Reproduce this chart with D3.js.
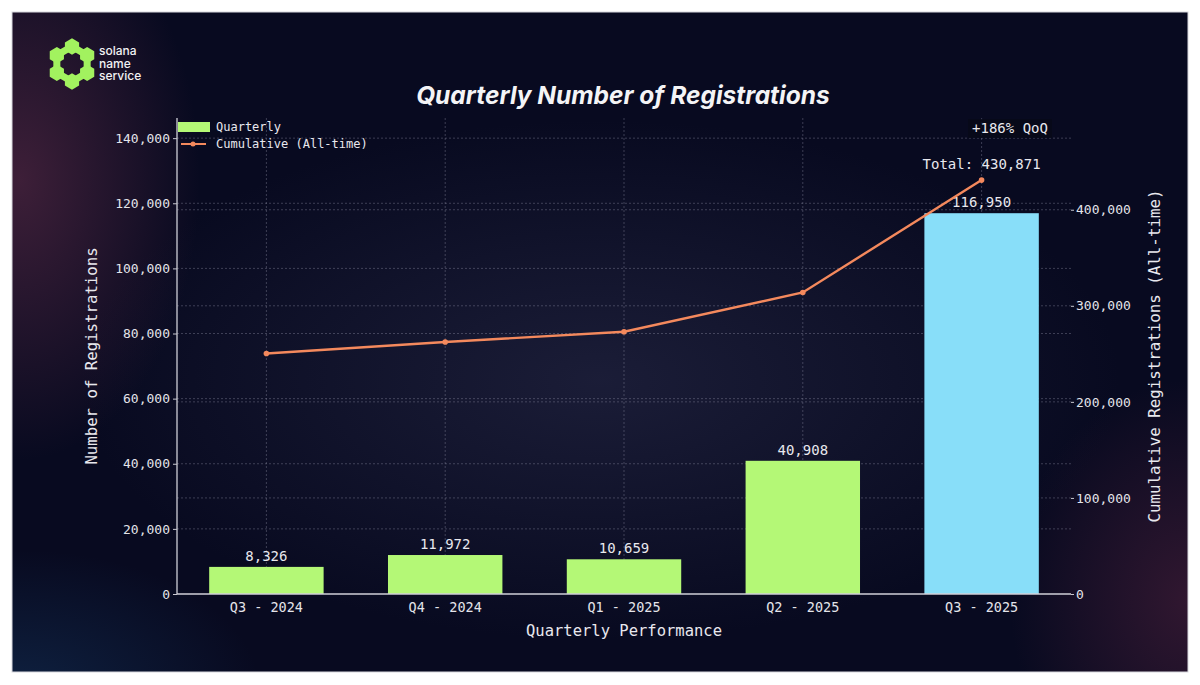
<!DOCTYPE html>
<html>
<head>
<meta charset="utf-8">
<title>Quarterly Number of Registrations</title>
<script src="https://cdn.jsdelivr.net/npm/d3@7"></script>
<style>
  body { margin: 0; background: #ffffff; }
  .mono { font-family: "DejaVu Sans Mono", monospace; fill: #e8e8ee; }
  .tick text { font-family: "DejaVu Sans Mono", monospace; font-size: 13px; fill: #e4e4ea; }
  .tick line { stroke: #c8c8d0; }
  .domain { stroke: #d0d0d8; stroke-width: 1.3; }
  .grid line { stroke: #9a9ab0; stroke-opacity: 0.45; stroke-dasharray: 2,2; stroke-width: 0.8; }
</style>
</head>
<body>
<svg id="chart" width="1200" height="685"></svg>
<script>
// data
var quarters = ["Q3 - 2024", "Q4 - 2024", "Q1 - 2025", "Q2 - 2025", "Q3 - 2025"];
var quarterly = [8326, 11972, 10659, 40908, 116950];
var cumulative = [250382, 262354, 273013, 313921, 430871];
var leftTicks = [0, 20000, 40000, 60000, 80000, 100000, 120000, 140000];
var rightTicks = [0, 100000, 200000, 300000, 400000];

var svg = d3.select("#chart");
var defs = svg.append("defs");

// background glows
function glow(id, c, o) {
  var g = defs.append("radialGradient").attr("id", id);
  g.append("stop").attr("offset", "0%").attr("stop-color", c).attr("stop-opacity", o);
  g.append("stop").attr("offset", "100%").attr("stop-color", c).attr("stop-opacity", 0);
}
glow("gTL", "#5a2a45", 0.65);
glow("gBL", "#1a4a7a", 0.35);
glow("gBR", "#5a2440", 0.5);
glow("gMid", "#2a2c4a", 0.55);

defs.append("clipPath").attr("id", "panelClip")
  .append("rect").attr("x", 12).attr("y", 12).attr("width", 1176).attr("height", 660);

var bg = svg.append("g").attr("clip-path", "url(#panelClip)");
bg.append("rect").attr("x", 12).attr("y", 12).attr("width", 1176).attr("height", 660).attr("fill", "#080a20");
bg.append("ellipse").attr("cx", 600).attr("cy", 380).attr("rx", 520).attr("ry", 260).attr("fill", "url(#gMid)");
bg.append("ellipse").attr("cx", 20).attr("cy", 180).attr("rx", 180).attr("ry", 280).attr("fill", "url(#gTL)");
bg.append("ellipse").attr("cx", 20).attr("cy", 690).attr("rx", 240).attr("ry", 140).attr("fill", "url(#gBL)");
bg.append("ellipse").attr("cx", 1190).attr("cy", 600).attr("rx", 180).attr("ry", 220).attr("fill", "url(#gBR)");
svg.append("rect").attr("x", 12).attr("y", 12).attr("width", 1176).attr("height", 660)
  .attr("fill", "none").attr("stroke", "#d8d8de").attr("stroke-width", 1);

// logo
var logo = svg.append("g");
var hexCenter = [72, 64], ringR = 17.5, hexR = 8.2;
var hexPts = d3.range(6).map(function(i) {
  var a = Math.PI / 3 * i - Math.PI / 2;
  return [hexCenter[0] + ringR * Math.cos(a), hexCenter[1] + ringR * Math.sin(a)];
});
logo.append("polygon")
  .attr("points", hexPts.map(function(p) { return p.join(","); }).join(" "))
  .attr("fill", "none").attr("stroke", "#a2f25f").attr("stroke-width", 7);
hexPts.forEach(function(p) {
  var pts = d3.range(6).map(function(i) {
    var a = Math.PI / 3 * i - Math.PI / 2;
    return [p[0] + hexR * Math.cos(a), p[1] + hexR * Math.sin(a)].join(",");
  }).join(" ");
  logo.append("polygon").attr("points", pts).attr("fill", "#a2f25f");
});
["solana", "name", "service"].forEach(function(t, i) {
  logo.append("text").attr("x", 99).attr("y", 55 + i * 12.5)
    .style("font-family", "Inter, sans-serif").style("font-size", "12px")
    .style("font-weight", 500).attr("fill", "#f2f2f4").text(t);
});

// title
svg.append("text").attr("x", 623).attr("y", 104).attr("text-anchor", "middle")
  .style("font-family", "Inter, sans-serif").style("font-size", "24.5px")
  .style("font-weight", 700).style("font-style", "italic")
  .attr("fill", "#f4f4f6").text("Quarterly Number of Registrations");

// scales
var pLeft = 177, pRight = 1071, pTop = 118, pBottom = 594;
var x = d3.scaleBand().domain(quarters).range([pLeft, pRight]).paddingInner(0.36).paddingOuter(0.18);
var yL = d3.scaleLinear().domain([0, 116950 * 1.25]).range([pBottom, pTop]);
var yR = d3.scaleLinear().domain([0, 430871 * 1.15]).range([pBottom, pTop]);
function cx(q) { return x(q) + x.bandwidth() / 2; }

// grid
var grid = svg.append("g").attr("class", "grid");
grid.selectAll(".gl").data(leftTicks.slice(1)).enter().append("line")
  .attr("x1", pLeft).attr("x2", pRight).attr("y1", function(d) { return yL(d); }).attr("y2", function(d) { return yL(d); });
grid.selectAll(".gr").data(rightTicks.slice(1)).enter().append("line")
  .attr("x1", pLeft).attr("x2", pRight).attr("y1", function(d) { return yR(d); }).attr("y2", function(d) { return yR(d); });
grid.selectAll(".gv").data(quarters).enter().append("line")
  .attr("x1", cx).attr("x2", cx).attr("y1", pTop).attr("y2", pBottom);

// bars
svg.selectAll(".bar").data(quarters).enter().append("rect")
  .attr("x", function(d) { return x(d); })
  .attr("width", x.bandwidth())
  .attr("y", function(d, i) { return yL(quarterly[i]); })
  .attr("height", function(d, i) { return pBottom - yL(quarterly[i]); })
  .attr("fill", function(d, i) { return i === quarters.length - 1 ? "#88def9" : "#b4f876"; });

svg.selectAll(".blab").data(quarters).enter().append("text")
  .attr("class", "mono").attr("text-anchor", "middle")
  .attr("x", cx).attr("y", function(d, i) { return yL(quarterly[i]) - 6; })
  .style("font-size", "14px")
  .text(function(d, i) { return d3.format(",")(quarterly[i]); });

// axes
var axL = svg.append("g").attr("transform", "translate(" + pLeft + ",0)")
  .call(d3.axisLeft(yL).tickValues(leftTicks).tickFormat(d3.format(",")).tickSize(4).tickSizeOuter(0));
axL.select(".domain").attr("d", "M0," + pTop + "V" + pBottom);
var axB = svg.append("g").attr("transform", "translate(0," + pBottom + ")")
  .call(d3.axisBottom(x).tickSize(0).tickPadding(8));
axB.select(".domain").attr("d", "M" + pLeft + ",0H" + pRight);
axB.selectAll(".tick text").style("font-size", "13.5px");
var axR = svg.append("g").attr("transform", "translate(" + pRight + ",0)")
  .call(d3.axisRight(yR).tickValues(rightTicks).tickFormat(d3.format(",")).tickSize(3).tickPadding(2));
axR.select(".domain").remove();

// cumulative line
var line = d3.line().x(function(d, i) { return cx(quarters[i]); }).y(function(d) { return yR(d); });
svg.append("path").datum(cumulative).attr("d", line)
  .attr("fill", "none").attr("stroke", "#f4895d").attr("stroke-width", 2.4);
svg.selectAll(".dot").data(cumulative).enter().append("circle")
  .attr("cx", function(d, i) { return cx(quarters[i]); }).attr("cy", function(d) { return yR(d); })
  .attr("r", 2.8).attr("fill", "#f4895d");

// annotations
var lastQ = quarters[quarters.length - 1];
svg.append("text").attr("class", "mono").attr("text-anchor", "middle")
  .attr("x", cx(lastQ)).attr("y", yR(cumulative[4]) - 11).style("font-size", "14px")
  .text("Total: " + d3.format(",")(cumulative[4]));
var qoq = Math.round((quarterly[4] / quarterly[3] - 1) * 100);
svg.append("rect").attr("x", 968).attr("y", 119).attr("width", 84).attr("height", 19)
  .attr("fill", "#070919").attr("opacity", 0.85);
svg.append("text").attr("class", "mono").attr("text-anchor", "middle")
  .attr("x", 1010).attr("y", 133).style("font-size", "14px")
  .text("+" + qoq + "% QoQ");

// axis titles
svg.append("text").attr("class", "mono").attr("text-anchor", "middle")
  .attr("transform", "translate(97,356) rotate(-90)").style("font-size", "15.7px")
  .text("Number of Registrations");
svg.append("text").attr("class", "mono").attr("text-anchor", "middle")
  .attr("transform", "translate(1160,356) rotate(-90)").style("font-size", "15.8px")
  .text("Cumulative Registrations (All-time)");
svg.append("text").attr("class", "mono").attr("text-anchor", "middle")
  .attr("x", 624).attr("y", 636).style("font-size", "15.5px")
  .text("Quarterly Performance");

// legend
var lg = svg.append("g");
lg.append("rect").attr("x", 178).attr("y", 122).attr("width", 32).attr("height", 10).attr("fill", "#b4f876");
lg.append("line").attr("x1", 181).attr("x2", 206).attr("y1", 144).attr("y2", 144)
  .attr("stroke", "#f4895d").attr("stroke-width", 2);
lg.append("circle").attr("cx", 193).attr("cy", 144).attr("r", 2.5).attr("fill", "#f4895d");
lg.append("text").attr("class", "mono").attr("x", 216).attr("y", 131).style("font-size", "12px").text("Quarterly");
lg.append("text").attr("class", "mono").attr("x", 216).attr("y", 148).style("font-size", "12px").text("Cumulative (All-time)");
</script>
</body>
</html>
